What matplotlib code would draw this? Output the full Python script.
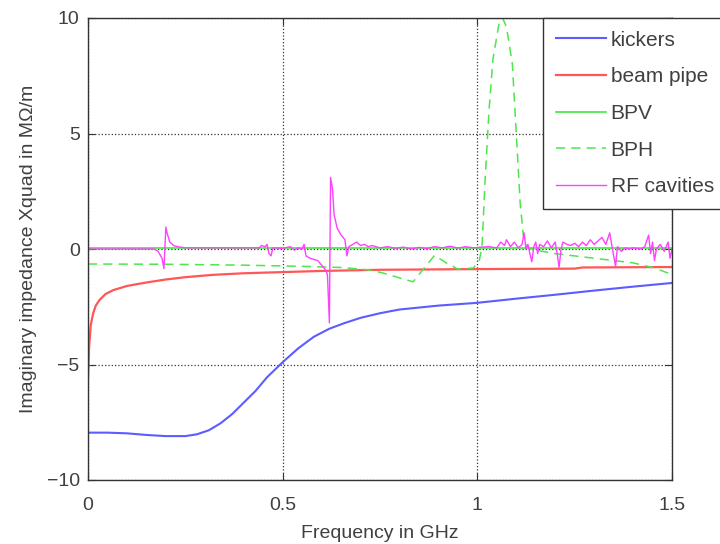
import numpy as np
import matplotlib
matplotlib.use("Agg")
import matplotlib.pyplot as plt

# frequency in GHz / imaginary impedance in MOhm/m
kick_f = [0, 0.05, 0.1, 0.15, 0.2, 0.25, 0.28, 0.31, 0.34, 0.37, 0.40, 0.43, 0.46,
          0.5, 0.54, 0.58, 0.62, 0.66, 0.7, 0.75, 0.8, 0.9, 1.0, 1.1, 1.2, 1.3, 1.4, 1.5]
kick_v = [-7.95, -7.95, -7.98, -8.05, -8.1, -8.1, -8.02, -7.85, -7.55, -7.15, -6.65, -6.15,
          -5.55, -4.9, -4.3, -3.8, -3.45, -3.2, -2.98, -2.78, -2.62, -2.45, -2.33, -2.15,
          -1.98, -1.8, -1.63, -1.47]

pipe_f = [0, 0.003, 0.007, 0.013, 0.02, 0.03, 0.045, 0.065, 0.1, 0.15, 0.2, 0.25, 0.32,
          0.4, 0.5, 0.6, 0.75, 1.0, 1.25, 1.27, 1.5]
pipe_v = [-5.6, -4.2, -3.3, -2.8, -2.45, -2.2, -1.95, -1.78, -1.6, -1.45, -1.32, -1.22,
          -1.12, -1.05, -1.0, -0.95, -0.9, -0.87, -0.85, -0.8, -0.78]

bpv_f = [0, 0.5, 1.0, 1.5]
bpv_v = [0.05, 0.05, 0.05, 0.05]

bph_f = [0, 0.2, 0.4, 0.55, 0.65, 0.72, 0.76, 0.8, 0.835, 0.86, 0.89, 0.92, 0.95, 0.99,
         1.005, 1.012, 1.02, 1.03, 1.04, 1.055, 1.065, 1.075, 1.09, 1.1, 1.11, 1.118,
         1.13, 1.15, 1.2, 1.25, 1.3, 1.35, 1.4, 1.45, 1.5]
bph_v = [-0.65, -0.66, -0.7, -0.75, -0.8, -0.9, -1.05, -1.25, -1.42, -0.9, -0.28, -0.6,
         -0.87, -0.82, -0.5, 0.1, 3.0, 6.0, 8.2, 9.7, 10.0, 9.6, 8.0, 5.0, 2.0, 0.6,
         0.05, -0.05, -0.2, -0.3, -0.4, -0.5, -0.6, -0.8, -1.1]

rf_f = [0.0, 0.17, 0.18, 0.19, 0.195, 0.2, 0.203, 0.21, 0.22, 0.23, 0.25, 0.3, 0.35, 0.40,
        0.44, 0.445, 0.455, 0.46, 0.465, 0.47, 0.475, 0.5, 0.52, 0.53, 0.54, 0.55, 0.555,
        0.56, 0.57, 0.58, 0.59, 0.6, 0.61, 0.615, 0.62, 0.623, 0.628, 0.632, 0.64, 0.65,
        0.66, 0.665, 0.67, 0.68, 0.69, 0.70, 0.71, 0.72, 0.73, 0.75, 0.77, 0.79, 0.81,
        0.83, 0.85, 0.87, 0.89, 0.91, 0.93, 0.95, 0.97, 0.99, 1.01, 1.03, 1.05, 1.06,
        1.07, 1.075, 1.085, 1.095, 1.105, 1.115, 1.12, 1.125, 1.13, 1.135, 1.14, 1.145,
        1.15, 1.155, 1.16, 1.17, 1.18, 1.19, 1.2, 1.205, 1.21, 1.215, 1.22, 1.23, 1.24,
        1.25, 1.26, 1.27, 1.28, 1.29, 1.30, 1.31, 1.32, 1.33, 1.34, 1.345, 1.355, 1.36,
        1.37, 1.38, 1.39, 1.40, 1.42, 1.43, 1.44, 1.445, 1.45, 1.455, 1.46, 1.47, 1.48,
        1.49, 1.495, 1.5]
rf_v = [0.0, 0.0, -0.1, -0.4, -0.85, 0.95, 0.7, 0.3, 0.15, 0.1, 0.05, 0.05, 0.05, 0.05,
        0.05, 0.15, 0.1, 0.2, -0.2, -0.3, 0.05, 0.03, 0.1, -0.05, 0.05, 0.0, 0.2,
        -0.3, -0.4, -0.45, -0.5, -0.7, -0.9, -1.1, -3.2, 3.1, 2.6, 1.5, 0.9, 0.6,
        0.4, -0.3, 0.1, 0.2, 0.3, 0.15, 0.2, 0.1, 0.15, 0.05, 0.1, 0.03, 0.08,
        0.0, 0.07, 0.02, 0.1, 0.05, 0.12, 0.04, 0.1, 0.05, 0.08, 0.1, 0.05, 0.3,
        0.15, 0.4, 0.1, 0.3, 0.05, 0.2, 0.7, 0.0, 0.2, -0.2, -0.55, 0.1,
        0.3, -0.2, 0.2, 0.1, 0.35, 0.05, 0.3, -0.2, -0.8, 0.0, 0.3, 0.2, 0.15,
        0.25, 0.1, 0.3, 0.15, 0.4, 0.2, 0.35, 0.5, 0.2, 0.7, 0.2, -0.75, 0.1,
        -0.1, 0.05, 0.0, 0.05, 0.0, 0.1, 0.6, -0.2, 0.3, -0.5, 0.0, 0.2, -0.1,
        0.3, -0.4, 0.0]

labels = ["kickers", "beam pipe", "BPV", "BPH", "RF cavities"]
x_ticks = [0, 0.5, 1, 1.5]
x_tick_labels = ["0", "0.5", "1", "1.5"]
y_ticks = [-10, -5, 0, 5, 10]

plt.rcParams["font.family"] = ["Liberation Sans", "DejaVu Sans"]
plt.rcParams["font.size"] = 14
text_col = "#404040"

fig = plt.figure(figsize=(7.2, 5.44), dpi=100)
ax = fig.add_axes([88 / 720, 1 - 480 / 544, 584 / 720, 462 / 544])

ax.plot(kick_f, kick_v, color="#5c5cff", lw=1.5, label=labels[0])
ax.plot(pipe_f, pipe_v, color="#ff5656", lw=1.6, label=labels[1])
ax.plot(bpv_f, bpv_v, color="#33e633", lw=1.1, label=labels[2])
ax.plot(bph_f, bph_v, color="#4de64d", lw=1.1, ls=(0, (6, 4)), label=labels[3])
ax.plot(rf_f, rf_v, color="#ff40ff", lw=1.0, label=labels[4])

ax.set_xlim(0, 1.5)
ax.set_ylim(-10, 10)
ax.set_xticks(x_ticks)
ax.set_xticklabels(x_tick_labels)
ax.set_yticks(y_ticks)
ax.grid(True, ls=":", color="#333333", lw=0.9)
ax.tick_params(direction="in", top=True, right=True, length=5, colors="#333333",
               labelcolor=text_col)
ax.tick_params(axis="x", pad=12)
ax.tick_params(axis="y", pad=6)
for s in ax.spines.values():
    s.set_color("#333333")
    s.set_linewidth(1.0)

ax.set_xlabel("Frequency in GHz", color=text_col, labelpad=8)
ax.set_ylabel("Imaginary impedance Xquad in M\u03a9/m", color=text_col, labelpad=7)

leg = fig.legend(loc="upper left", bbox_to_anchor=(543 / 720, 1 - 18 / 544),
                 frameon=True, fancybox=False, shadow=False, borderaxespad=0,
                 handlelength=2.4, handletextpad=0.25, labelspacing=0.85,
                 borderpad=0.6, fontsize=15)
leg.get_frame().set_edgecolor("#333333")
leg.get_frame().set_linewidth(1.0)
leg.get_frame().set_alpha(1)
for t in leg.get_texts():
    t.set_color(text_col)

fig.savefig("out.png", dpi=100)
